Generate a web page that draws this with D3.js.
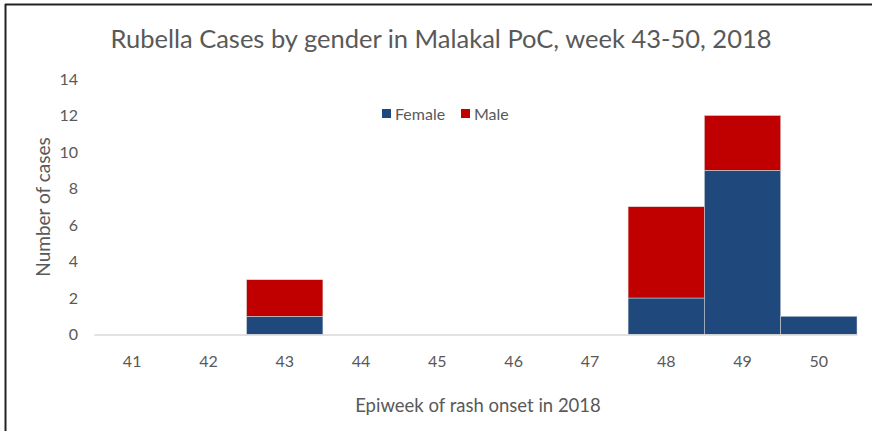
<!DOCTYPE html>
<meta charset="utf-8">
<style>
	body { margin: 0; background: #fff; }
	text { font-family: Lato, "Open Sans", sans-serif; fill: #595959; }
</style>

<div class="chart"></div>

<script src="https://d3js.org/d3.v7.min.js"></script>

<script>
	var weeks = ["41", "42", "43", "44", "45", "46", "47", "48", "49", "50"];
	var female = [0, 0, 1, 0, 0, 0, 0, 2, 9, 1];
	var male = [0, 0, 2, 0, 0, 0, 0, 5, 3, 0];
	var yTicks = [0, 2, 4, 6, 8, 10, 12, 14];
	var seriesNames = ["Female", "Male"];
	var colors = ["#1f497d", "#c00000"];

	var W = 872, H = 431;
	var margin = {top: 79, right: 15, bottom: 96, left: 94};

	var svg = d3.select('.chart')
			.append("svg")
			.attr("width", W)
			.attr("height", H);

	// frame (only top and left edges visible)
	svg.append("line").attr("x1", 5).attr("x2", W).attr("y1", 4.5).attr("y2", 4.5)
			.attr("stroke", "#222").attr("stroke-width", 2);
	svg.append("line").attr("x1", 5.5).attr("x2", 5.5).attr("y1", 4).attr("y2", H)
			.attr("stroke", "#222").attr("stroke-width", 2);

	var xScale = d3.scaleBand()
			.domain(weeks)
			.range([margin.left, 857])
			.padding(0);

	var yScale = d3.scaleLinear()
			.domain([0, 14])
			.range([334.5, margin.top]);

	var table = weeks.map(function(w, i) {
		return {week: w, Female: female[i], Male: male[i]};
	});
	var stacked = d3.stack().keys(seriesNames)(table);

	// title
	svg.append("text")
			.attr("x", 441)
			.attr("y", 48)
			.attr("text-anchor", "middle")
			.style("font-size", "25.5px")
			.text("Rubella Cases by gender in Malakal PoC, week 43-50, 2018");

	// bars
	svg.selectAll("g.series")
			.data(stacked)
			.enter().append("g")
			.attr("class", "series")
			.attr("fill", function(d, i) { return colors[i]; })
			.selectAll("rect")
			.data(function(d) { return d; })
			.enter().append("rect")
			.filter(function(d) { return d[1] > d[0]; })
			.attr("x", function(d) { return xScale(d.data.week); })
			.attr("width", xScale.bandwidth())
			.attr("y", function(d) { return yScale(d[1]); })
			.attr("height", function(d) { return yScale(d[0]) - yScale(d[1]); })
			.attr("stroke", "#d9d9d9")
			.attr("stroke-width", 0.5);

	// x axis
	var xAxis = svg.append("g")
			.attr("transform", "translate(0," + yScale(0) + ")")
			.call(d3.axisBottom(xScale).tickSize(0).tickPadding(21));
	xAxis.select(".domain").attr("stroke", "#d9d9d9").attr("stroke-width", 1.5);
	xAxis.selectAll("text").style("font-size", "16px").attr("fill", "#595959");

	// y axis
	var yAxis = svg.append("g")
			.attr("transform", "translate(" + (margin.left - 16) + ",0)")
			.call(d3.axisLeft(yScale).tickValues(yTicks).tickSize(0).tickPadding(0));
	yAxis.select(".domain").remove();
	yAxis.selectAll("text").style("font-size", "16px").attr("fill", "#595959");

	// axis titles
	svg.append("text")
			.attr("transform", "translate(50,207) rotate(-90)")
			.attr("text-anchor", "middle")
			.style("font-size", "19px")
			.text("Number of cases");

	svg.append("text")
			.attr("x", 478)
			.attr("y", 412)
			.attr("text-anchor", "middle")
			.style("font-size", "18.5px")
			.text("Epiweek of rash onset in 2018");

	// legend
	var legendX = [382, 461];
	var legend = svg.selectAll("g.legend")
			.data(seriesNames)
			.enter().append("g")
			.attr("class", "legend")
			.attr("transform", function(d, i) { return "translate(" + legendX[i] + ",114)"; });
	legend.append("rect")
			.attr("x", 0).attr("y", -5)
			.attr("width", 9).attr("height", 9)
			.attr("fill", function(d, i) { return colors[i]; });
	legend.append("text")
			.attr("x", 13)
			.attr("y", 0)
			.attr("dy", "0.35em")
			.style("font-size", "16px")
			.text(function(d) { return d; });
</script>
